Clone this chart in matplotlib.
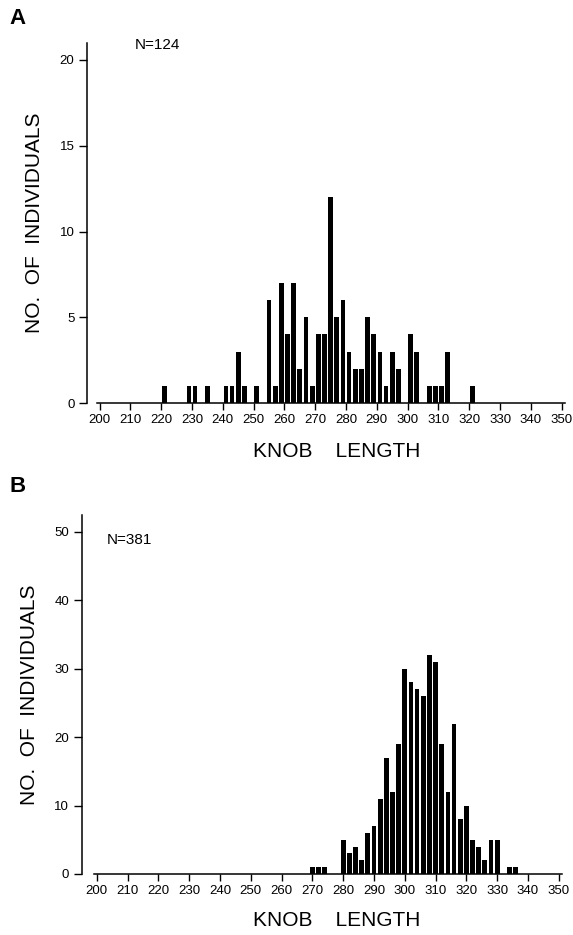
import matplotlib
matplotlib.use("Agg")
import matplotlib.pyplot as plt

plt.rcParams['font.family'] = ['Liberation Sans', 'DejaVu Sans']

# Panel A data (knob length bin centers, counts)
a_lengths = [221, 229, 231, 235, 241, 243, 245, 247, 251,
             255, 257, 259, 261, 263, 265, 267, 269,
             271, 273, 275, 277, 279, 281, 283, 285, 287, 289,
             291, 293, 295, 297, 301, 303, 307, 309, 311, 313, 321]
a_counts = [1, 1, 1, 1, 1, 1, 3, 1, 1,
            6, 1, 7, 4, 7, 2, 5, 1,
            4, 4, 12, 5, 6, 3, 2, 2, 5, 4,
            3, 1, 3, 2, 4, 3, 1, 1, 1, 3, 1]

# Panel B data
b_lengths = [270, 272, 274, 280, 282, 284, 286, 288, 290, 292, 294, 296, 298,
             300, 302, 304, 306, 308, 310, 312, 314, 316, 318, 320, 322, 324,
             326, 328, 330, 334, 336]
b_counts = [1, 1, 1, 5, 3, 4, 2, 6, 7, 11, 17, 12, 19,
            30, 28, 27, 26, 32, 31, 19, 12, 22, 8, 10, 5, 4,
            2, 5, 5, 1, 1]

x_ticks = list(range(200, 351, 10))

W, H = 573, 935
fig = plt.figure(figsize=(W / 100, H / 100), dpi=100)


def panel(rect, xs, ys, ylim, yticks, xleft, letter, letter_xy, ntext, n_xy, xlabel_y):
    ax = fig.add_axes(rect)
    ax.bar(xs, ys, width=1.55, color='black', linewidth=0)
    ax.set_xlim(xleft, 352)
    ax.set_ylim(0, ylim)
    ax.set_xticks(x_ticks)
    ax.set_yticks(yticks)
    for s in ['top', 'right']:
        ax.spines[s].set_visible(False)
    ax.spines['bottom'].set_bounds(199, 351)
    ax.spines['bottom'].set_linewidth(1.1)
    ax.spines['left'].set_linewidth(1.1)
    ax.tick_params(axis='x', direction='out', length=5, width=1.0, labelsize=9.5, pad=3)
    ax.tick_params(axis='y', direction='out', length=6, width=1.0, labelsize=9.5, pad=3)
    ax.set_ylabel('NO.  OF  INDIVIDUALS', fontsize=15, labelpad=11)
    fig.text(337 / W, 1 - xlabel_y / H, 'KNOB    LENGTH', fontsize=15,
             ha='center', va='center')
    fig.text(letter_xy[0] / W, 1 - letter_xy[1] / H, letter, fontsize=16,
             fontweight='bold', ha='center', va='center')
    fig.text(n_xy[0] / W, 1 - n_xy[1] / H, ntext, fontsize=11,
             ha='left', va='center')
    return ax


# Panel A
panel([87 / W, (H - 403) / H, (352 - 195.9) * 3.08 / W, 21 * 17.15 / H],
      a_lengths, a_counts, 21, [0, 5, 10, 15, 20], 195.9,
      'A', (18, 18), 'N=124', (135, 45), 451)

# Panel B
panel([81.7 / W, (H - 874) / H, (352 - 195.1) * 3.08 / W, 52.5 * 6.84 / H],
      b_lengths, b_counts, 52.5, [0, 10, 20, 30, 40, 50], 195.1,
      'B', (18, 487), 'N=381', (107, 540), 920)

fig.savefig('out.png', dpi=100)
